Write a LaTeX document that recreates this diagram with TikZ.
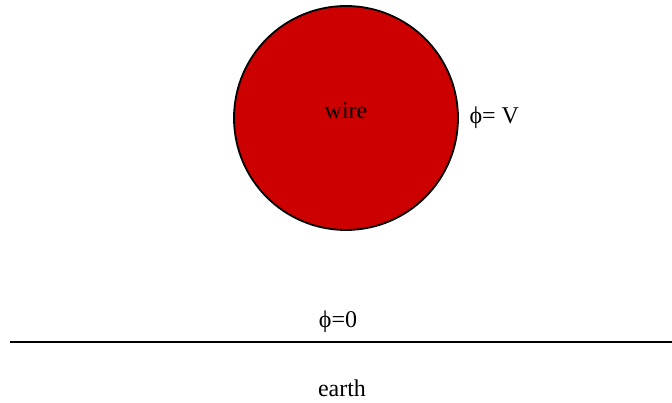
\documentclass[tikz,border=0pt]{standalone}
\usepackage{fontspec}
\setmainfont{Liberation Serif}
\usetikzlibrary{positioning}
\definecolor{wirered}{RGB}{205,0,0}

\begin{document}
\begin{tikzpicture}[x=1pt, y=-1pt, every node/.style={font=\fontsize{24}{28}\selectfont}]
    \useasboundingbox (0,0) rectangle (672,403);

    \node[circle, draw, line width=1.8pt, fill=wirered, minimum size=224pt, inner sep=0pt] (wire) at (346,118) {};
    \node (wirelabel) at (346,111) {wire};
    \node[anchor=west] (potV) at (466,118) {ϕ= V};

    % earth line
    \coordinate (earthL) at (10,342);
    \coordinate (earthR) at (672,342);
    \draw[line width=1.8pt] (earthL) -- (earthR);
    \node (pot0) at (338,322) {ϕ=0};
    \node (earth) at (342,388) {earth};
\end{tikzpicture}
\end{document}
